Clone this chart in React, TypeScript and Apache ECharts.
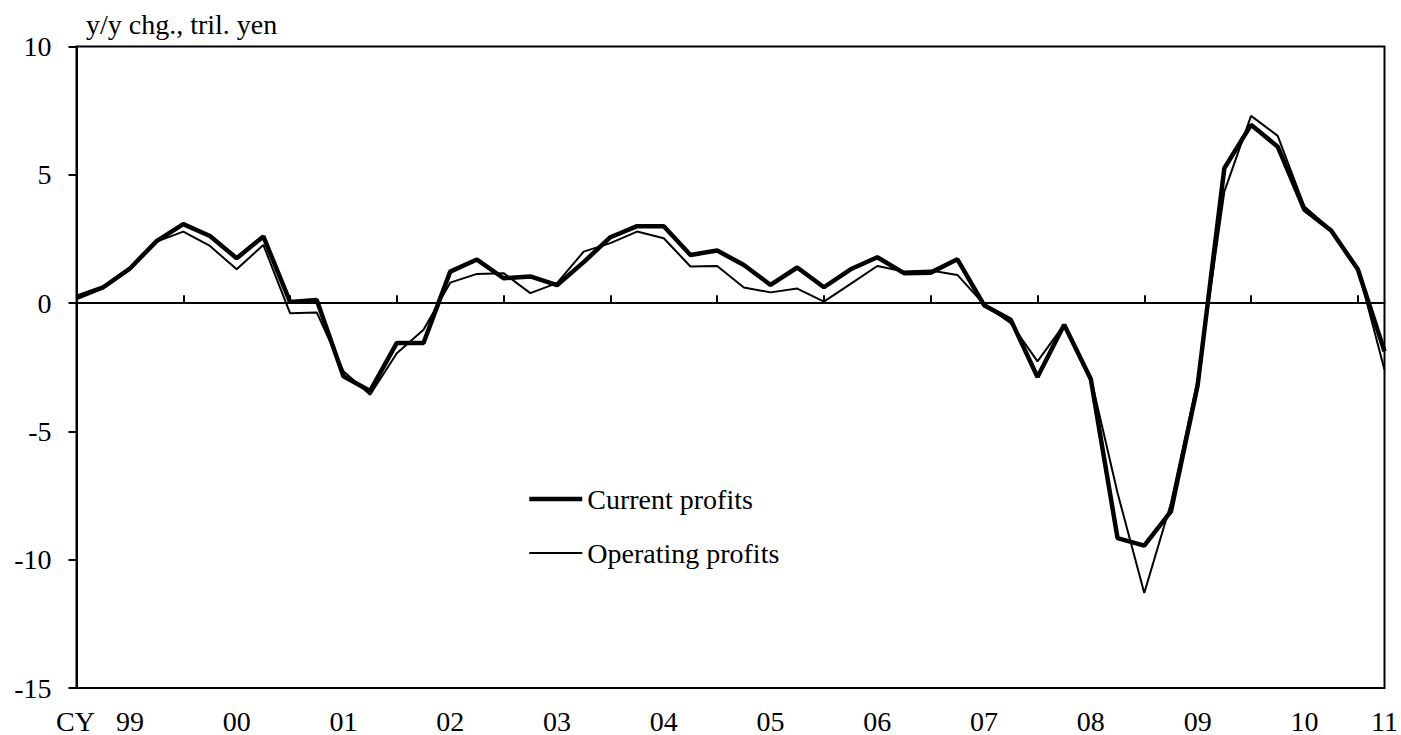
import React, { useEffect, useRef } from "react";
import * as echarts from "echarts";

const categories = [
  "1999Q1", "1999Q2", "1999Q3", "1999Q4",
  "2000Q1", "2000Q2", "2000Q3", "2000Q4",
  "2001Q1", "2001Q2", "2001Q3", "2001Q4",
  "2002Q1", "2002Q2", "2002Q3", "2002Q4",
  "2003Q1", "2003Q2", "2003Q3", "2003Q4",
  "2004Q1", "2004Q2", "2004Q3", "2004Q4",
  "2005Q1", "2005Q2", "2005Q3", "2005Q4",
  "2006Q1", "2006Q2", "2006Q3", "2006Q4",
  "2007Q1", "2007Q2", "2007Q3", "2007Q4",
  "2008Q1", "2008Q2", "2008Q3", "2008Q4",
  "2009Q1", "2009Q2", "2009Q3", "2009Q4",
  "2010Q1", "2010Q2", "2010Q3", "2010Q4",
  "2011Q1", "2011Q2",
];

const currentProfits = [
  0.25, 0.62, 1.35, 2.42, 3.08, 2.62, 1.75, 2.6, 0.05, 0.12,
  -2.85, -3.42, -1.55, -1.55, 1.23, 1.7, 0.97, 1.04, 0.7, 1.6,
  2.57, 3.0, 3.0, 1.88, 2.05, 1.49, 0.71, 1.39, 0.62, 1.32,
  1.79, 1.17, 1.19, 1.71, -0.08, -0.65, -2.88, -0.84, -2.97, -9.16,
  -9.45, -8.12, -3.2, 5.26, 6.95, 6.1, 3.64, 2.83, 1.32, -1.88,
];

const operatingProfits = [
  0.15, 0.57, 1.3, 2.4, 2.79, 2.23, 1.32, 2.27, -0.39, -0.36,
  -2.65, -3.57, -1.95, -1.04, 0.8, 1.14, 1.17, 0.39, 0.78, 2.01,
  2.34, 2.79, 2.53, 1.43, 1.45, 0.61, 0.42, 0.57, 0.06, 0.75,
  1.45, 1.23, 1.27, 1.1, -0.05, -0.78, -2.27, -0.84, -2.92, -7.4,
  -11.3, -7.8, -3.0, 4.35, 7.3, 6.52, 3.77, 2.86, 1.36, -2.6,
];

const seriesNames = ["Current profits", "Operating profits"];
const yAxisTitle = "y/y chg., tril. yen";
const xAxisPrefix = "CY";

const FONT = "'Liberation Serif', 'Times New Roman', serif";
const FS = 28;
const THICK = 4.5;
const THIN = 2;

export default function App() {
  const ref = useRef<HTMLDivElement>(null);

  useEffect(() => {
    if (!ref.current) return;
    const chart = echarts.init(ref.current, null, { renderer: "svg" });
    const lastIdx = categories.length - 1;
    const hiddenSymbol = {
      color: "rgba(0,0,0,0)",
      borderColor: "rgba(0,0,0,0)",
      borderWidth: 0,
      opacity: 0,
    };
    chart.setOption({
      animation: false,
      backgroundColor: "#fff",
      grid: {
        left: 76.5,
        right: 16.5,
        top: 46.6,
        bottom: 46.7,
        show: true,
        borderColor: "#000",
        borderWidth: 2,
        containLabel: false,
      },
      legend: {
        orient: "vertical",
        left: 522,
        top: 479,
        itemWidth: 53,
        itemHeight: 14,
        itemGap: 24,
        textStyle: { fontFamily: FONT, fontSize: FS, color: "#000", lineHeight: 30 },
        itemStyle: hiddenSymbol,
        data: [
          { name: seriesNames[0], lineStyle: { color: "#000", width: THICK }, itemStyle: hiddenSymbol },
          { name: seriesNames[1], lineStyle: { color: "#000", width: THIN }, itemStyle: hiddenSymbol },
        ],
      },
      xAxis: {
        type: "category",
        boundaryGap: false,
        data: categories,
        axisLine: { show: true, lineStyle: { color: "#000", width: 2 } },
        axisTick: {
          show: true,
          inside: true,
          length: 8,
          lineStyle: { color: "#000", width: 2 },
          interval: (i: number) => i % 4 === 0 && i > 0,
        },
        axisLabel: {
          interval: (i: number) => i % 4 === 2 || i === lastIdx,
          formatter: (v: string) => v.slice(2, 4),
          fontFamily: FONT,
          fontSize: FS,
          color: "#000",
          margin: 19,
        },
        splitLine: { show: false },
      },
      yAxis: {
        type: "value",
        min: -15,
        max: 10,
        interval: 5,
        axisLine: { show: true, lineStyle: { color: "#000", width: 2 } },
        axisTick: { show: true, inside: false, length: 8, lineStyle: { color: "#000", width: 2 } },
        axisLabel: { fontFamily: FONT, fontSize: FS, color: "#000", margin: 25 },
        splitLine: { show: false },
      },
      graphic: [
        {
          type: "text",
          left: 86,
          top: 10,
          style: { text: yAxisTitle, fontFamily: FONT, fontSize: FS, fill: "#000" },
        },
        {
          type: "text",
          left: 56,
          top: 707,
          style: { text: xAxisPrefix, fontFamily: FONT, fontSize: FS, fill: "#000" },
        },
      ],
      series: [
        {
          name: seriesNames[0],
          type: "line",
          data: currentProfits,
          symbol: "none",
          lineStyle: { color: "#000", width: THICK },
          itemStyle: { color: "#000" },
          z: 3,
        },
        {
          name: seriesNames[1],
          type: "line",
          data: operatingProfits,
          symbol: "none",
          lineStyle: { color: "#000", width: THIN },
          itemStyle: { color: "#000" },
          z: 4,
          markLine: {
            silent: true,
            symbol: "none",
            label: { show: false },
            lineStyle: { color: "#000", width: 2, type: "solid" },
            data: [{ yAxis: 0 }],
          },
        },
      ],
    });
    return () => chart.dispose();
  }, []);

  return (
    <div
      ref={ref}
      style={{ position: "fixed", left: 0, top: 0, width: 1401, height: 735, background: "#fff" }}
    />
  );
}
